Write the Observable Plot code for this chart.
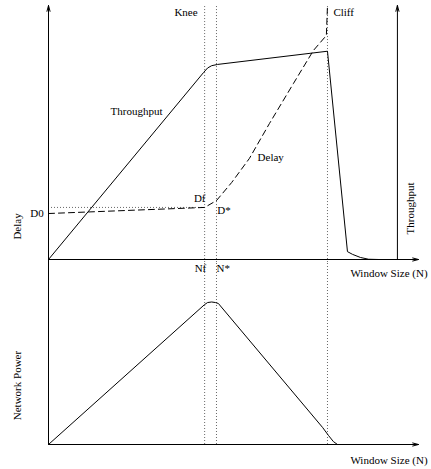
<!DOCTYPE html>
<html>
<head>
<meta charset="utf-8">
<script src="https://cdn.jsdelivr.net/npm/d3@7"></script>
<script src="https://cdn.jsdelivr.net/npm/@observablehq/plot@0.6"></script>
<style>
  html, body { margin: 0; padding: 0; background: #fff; }
  #chart { width: 431px; height: 469px; }
  #chart svg { display: block; }
</style>
</head>
<body>
<div id="chart"></div>
<script>
// Window size (x, arbitrary units 0..100) and curve values (arbitrary units 0..100)
const throughputX = [0, 41.9, 43.0, 44.1, 45.7, 75.4, 80.8, 82.2, 84.3, 86.5, 89.2];
const throughputY = [0, 73.6, 75.4, 76.3, 76.8, 82.0, 3.1, 2.0, 0.8, 0.1, 0];
const delayX = [0, 42.2, 45.4, 49.5, 54.3, 59.7, 66.2, 71.6, 75.1, 75.4];
const delayY = [18.1, 20.5, 23.2, 30.3, 39.8, 53.5, 69.3, 82.3, 88.2, 100];
const powerX = [0, 42.2, 43.0, 44.1, 45.1, 45.9, 74.1, 75.7, 77.0, 78.1];
const powerY = [0, 76.9, 78.0, 78.3, 78.0, 77.5, 9.3, 4.9, 1.6, 0];
// Markers
const kneeN = 42.2, optN = 45.4, cliffN = 75.4;
const markerNs = [kneeN, optN, cliffN];
const D0 = 18.1, Df = 20.5;
const rightAxisN = 94.3;

// Annotations
const topLabels = [
  {text: "Knee", x: 40.3, y: 97.2, anchor: "end"},
  {text: "Cliff", x: 77.0, y: 97.2, anchor: "start"},
  {text: "Throughput", x: 23.8, y: 58.3, anchor: "middle"},
  {text: "Delay", x: 56.5, y: 40.2, anchor: "start"},
  {text: "Df", x: 39.3, y: 24.0, anchor: "start"},
  {text: "D*", x: 45.6, y: 19.3, anchor: "start"},
  {text: "D0", x: -1.3, y: D0, anchor: "end"}
];
const topRotated = [
  {text: "Delay", x: -8.4, y: 13.0},
  {text: "Throughput", x: 97.8, y: 20.1}
];
const bottomLabels = [
  {text: "Nf", x: 39.5, y: 96.7, anchor: "start"},
  {text: "N*", x: 45.4, y: 96.7, anchor: "start"},
  {text: "Window Size (N)", x: 81.6, y: 94.0, anchor: "start"},
  {text: "Window Size (N)", x: 81.6, y: -8.8, anchor: "start"}
];
const bottomRotated = [
  {text: "Network Power", x: -8.4, y: 32.4}
];

const zip = (xs, ys) => xs.map((x, i) => ({x, y: ys[i]}));
const font = {fontFamily: "'Liberation Serif', 'Times New Roman', serif", fontSize: "11px", background: "white", color: "black"};
const arrowOpts = {stroke: "black", strokeWidth: 1, headLength: 9, headAngle: 30};
const dotted = {stroke: "black", strokeWidth: 1, strokeDasharray: "1,2", strokeOpacity: 0.6};

const topPanel = Plot.plot({
  width: 431, height: 262,
  marginLeft: 48, marginRight: 13, marginTop: 5, marginBottom: 3,
  x: {domain: [0, 100], axis: null},
  y: {domain: [0, 100], axis: null},
  style: font,
  marks: [
    Plot.ruleX(markerNs, {y1: -1.2, y2: 100, ...dotted}),
    Plot.ruleY([Df], {x1: 0, x2: kneeN, ...dotted}),
    Plot.arrow([{x1: 0, y1: -1.2, x2: 0, y2: 100}], {x1: "x1", y1: "y1", x2: "x2", y2: "y2", ...arrowOpts}),
    Plot.arrow([{x1: 0, y1: 0, x2: 100, y2: 0}], {x1: "x1", y1: "y1", x2: "x2", y2: "y2", ...arrowOpts}),
    Plot.arrow([{x1: rightAxisN, y1: 0, x2: rightAxisN, y2: 100}], {x1: "x1", y1: "y1", x2: "x2", y2: "y2", ...arrowOpts}),
    Plot.line(zip(throughputX, throughputY), {x: "x", y: "y", stroke: "black", strokeWidth: 1}),
    Plot.line(zip(delayX, delayY), {x: "x", y: "y", stroke: "black", strokeWidth: 1, strokeDasharray: "6,4"}),
    Plot.text(topLabels.filter(d => d.anchor === "start"), {x: "x", y: "y", text: "text", textAnchor: "start", fontSize: 11, fill: "black"}),
    Plot.text(topLabels.filter(d => d.anchor === "end"), {x: "x", y: "y", text: "text", textAnchor: "end", fontSize: 11, fill: "black"}),
    Plot.text(topLabels.filter(d => d.anchor === "middle"), {x: "x", y: "y", text: "text", textAnchor: "middle", fontSize: 11, fill: "black"}),
    Plot.text(topRotated, {x: "x", y: "y", text: "text", rotate: -90, fontSize: 11, fill: "black"})
  ]
});

const bottomPanel = Plot.plot({
  width: 431, height: 207,
  marginLeft: 48, marginRight: 13, marginTop: 0, marginBottom: 25,
  x: {domain: [0, 100], axis: null},
  y: {domain: [0, 100], axis: null},
  style: font,
  marks: [
    Plot.ruleX(markerNs, {y1: 0, y2: 100, ...dotted}),
    Plot.ruleX([0], {y1: 0, y2: 100, stroke: "black", strokeWidth: 1}),
    Plot.arrow([{x1: 0, y1: 0, x2: 100, y2: 0}], {x1: "x1", y1: "y1", x2: "x2", y2: "y2", ...arrowOpts}),
    Plot.line(zip(powerX, powerY), {x: "x", y: "y", stroke: "black", strokeWidth: 1}),
    Plot.text(bottomLabels, {x: "x", y: "y", text: "text", textAnchor: "start", fontSize: 11, fill: "black"}),
    Plot.text(bottomRotated, {x: "x", y: "y", text: "text", rotate: -90, fontSize: 11, fill: "black"})
  ]
});

const el = document.getElementById("chart");
el.appendChild(topPanel);
el.appendChild(bottomPanel);
</script>
</body>
</html>
